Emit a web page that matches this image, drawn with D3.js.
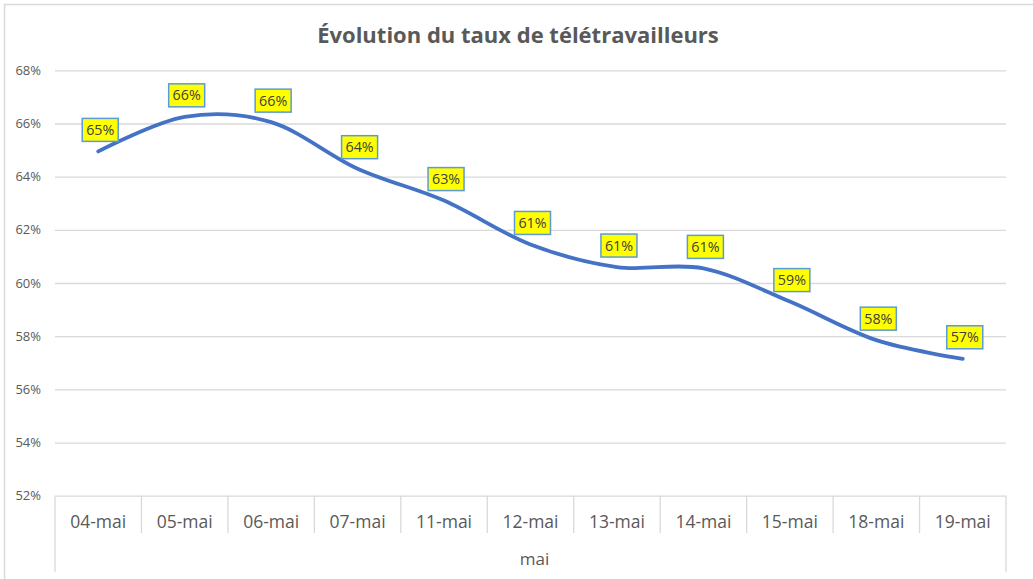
<!DOCTYPE html>
<html lang="fr">
<head>
<meta charset="utf-8">
<script src="https://cdn.jsdelivr.net/npm/d3@7"></script>
<style>
  html, body { margin: 0; padding: 0; background: #ffffff; }
  svg { display: block; }
  text { font-family: "Open Sans", "Noto Sans", sans-serif; }
</style>
</head>
<body>
<svg id="chart" width="1033" height="579"></svg>
<script>
// Taux de télétravailleurs par jour ouvré (mai)
const categories = ["04-mai", "05-mai", "06-mai", "07-mai", "11-mai", "12-mai",
                    "13-mai", "14-mai", "15-mai", "18-mai", "19-mai"];
const rates = [0.6495, 0.6625, 0.6605, 0.643, 0.631, 0.6145,
               0.606, 0.6055, 0.593, 0.5785, 0.5715];
const yTicks = [0.52, 0.54, 0.56, 0.58, 0.60, 0.62, 0.64, 0.66, 0.68];
const groupLabel = "mai";
const title = "Évolution du taux de télétravailleurs";

const svg = d3.select("#chart");
const W = 1033, H = 579;
const plot = { left: 55, right: 1006, top: 70.3, bottom: 495.7 };

const textColor = "#595959";
const gridColor = "#D9D9D9";
const lineColor = "#4472C4";

// Chart frame
svg.append("rect")
  .attr("x", 4.5).attr("y", 4.5)
  .attr("width", W + 20).attr("height", H + 20)
  .attr("fill", "#ffffff")
  .attr("stroke", gridColor).attr("stroke-width", 1.5);

const x = d3.scaleBand().domain(categories).range([plot.left, plot.right]).padding(0);
const y = d3.scaleLinear().domain([0.52, 0.68]).range([plot.bottom, plot.top]);

// Title
svg.append("text")
  .attr("x", 518).attr("y", 42.5)
  .attr("text-anchor", "middle")
  .attr("fill", textColor)
  .attr("font-size", 22)
  .attr("font-weight", 700)
  .text(title);

// Horizontal gridlines and percentage labels
const yAxis = d3.axisLeft(y)
  .tickValues(yTicks)
  .tickSize(-(plot.right - plot.left))
  .tickPadding(14)
  .tickFormat(d3.format(".0%"));

const gy = svg.append("g")
  .attr("transform", `translate(${plot.left},0)`)
  .call(yAxis);
gy.select(".domain").remove();
gy.selectAll(".tick line")
  .attr("stroke", gridColor).attr("stroke-width", 1.3);
gy.selectAll(".tick text")
  .attr("fill", textColor)
  .attr("font-size", 13)
  .attr("font-family", "'Open Sans', sans-serif");

// Category boxes along the bottom
const bounds = categories.map(c => x(c)).concat([x(categories[categories.length - 1]) + x.bandwidth()]);
svg.append("g").selectAll("line")
  .data(bounds)
  .join("line")
  .attr("x1", d => d).attr("x2", d => d)
  .attr("y1", plot.bottom)
  .attr("y2", (d, i) => (i === 0 || i === bounds.length - 1) ? 572 : 533)
  .attr("stroke", gridColor).attr("stroke-width", 1.3);

svg.append("g").selectAll("text")
  .data(categories)
  .join("text")
  .attr("x", d => x(d) + x.bandwidth() / 2)
  .attr("y", 527.5)
  .attr("text-anchor", "middle")
  .attr("fill", textColor)
  .attr("font-size", 17.5)
  .text(d => d);

svg.append("text")
  .attr("x", (plot.left + plot.right) / 2 + 4)
  .attr("y", 565)
  .attr("text-anchor", "middle")
  .attr("fill", textColor)
  .attr("font-size", 17)
  .text(groupLabel);

// Smoothed series line
const line = d3.line()
  .x((d, i) => x(categories[i]) + x.bandwidth() / 2)
  .y(d => y(d))
  .curve(d3.curveCardinal.tension(0));

svg.append("path")
  .datum(rates)
  .attr("d", line)
  .attr("fill", "none")
  .attr("stroke", lineColor)
  .attr("stroke-width", 3.8)
  .attr("stroke-linecap", "round");

// Value labels in yellow boxes above each point
const fmt = d3.format(".0%");
const lbl = svg.append("g").selectAll("g")
  .data(rates)
  .join("g")
  .attr("transform", (d, i) =>
    `translate(${x(categories[i]) + x.bandwidth() / 2 + 2},${y(d) - 21.5})`);

lbl.append("rect")
  .attr("x", -18).attr("y", -11.5)
  .attr("width", 36).attr("height", 23)
  .attr("fill", "#FFFF00")
  .attr("stroke", "#5B9BD5").attr("stroke-width", 1.5);

lbl.append("text")
  .attr("text-anchor", "middle")
  .attr("dy", "0.36em")
  .attr("fill", "#404040")
  .attr("font-size", 14.3)
  .text(d => fmt(d));
</script>
</body>
</html>
